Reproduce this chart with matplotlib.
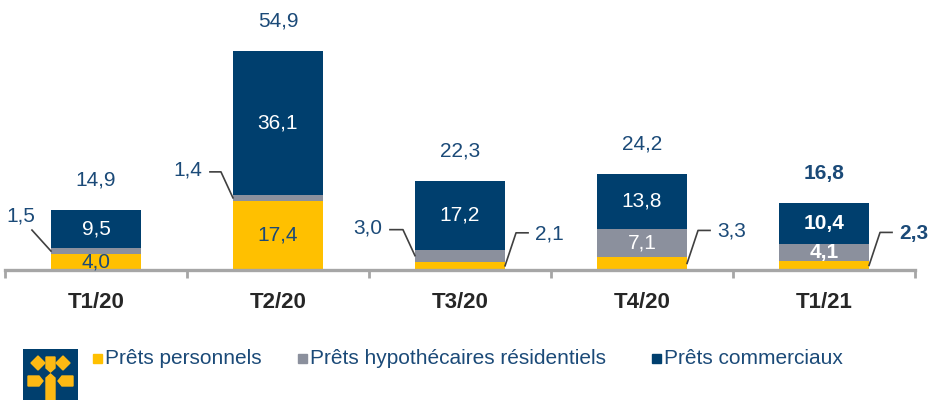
import matplotlib
matplotlib.use("Agg")
import matplotlib.pyplot as plt
from matplotlib.patches import Rectangle, Polygon

plt.rcParams['font.family'] = ['Liberation Sans', 'DejaVu Sans']

# Données (G$)
categories = ['T1/20', 'T2/20', 'T3/20', 'T4/20', 'T1/21']
personnels = [4.0, 17.4, 2.1, 3.3, 2.3]
hypothecaires = [1.5, 1.4, 3.0, 7.1, 4.1]
commerciaux = [9.5, 36.1, 17.2, 13.8, 10.4]
totaux = [14.9, 54.9, 22.3, 24.2, 16.8]
series_names = ['Prêts personnels', 'Prêts hypothécaires résidentiels', 'Prêts commerciaux']

# Styles
c_jaune = '#FFC000'
c_gris = '#8B909D'
c_marine = '#003F6E'
c_texte = '#1B4A78'
c_ligne = '#404040'
hypo_dedans = [False, False, False, True, True]
pers_dedans = [True, True, False, False, False]
hypo_horiz = [0, 11, 13, 0, 0]
gras = [False, False, False, False, True]

W, H = 933, 400
fig = plt.figure(figsize=(W / 100, H / 100), dpi=100)
ax = fig.add_axes([5 / W, 130 / H, 910 / W, 263 / H])
ax.set_xlim(-0.5, 4.5)
ax.set_ylim(0, 66)
px_x = 5 / 910.0
px_y = 66 / 263.0

x = list(range(len(categories)))
w = 0.495
bas2 = [p + h for p, h in zip(personnels, hypothecaires)]
ax.bar(x, personnels, w, color=c_jaune, zorder=2)
ax.bar(x, hypothecaires, w, bottom=personnels, color=c_gris, zorder=2)
ax.bar(x, commerciaux, w, bottom=bas2, color=c_marine, zorder=2)

fs = 15
def fmt(v):
    return ('%.1f' % v).replace('.', ',')

for i in x:
    fw = 'bold' if gras[i] else 'normal'
    top = bas2[i] + commerciaux[i]
    # total
    ax.text(i, top + 30 * px_y, fmt(totaux[i]), ha='center', va='center',
            fontsize=fs, color=c_texte, fontweight=fw)
    # commerciaux
    ax.text(i, bas2[i] + commerciaux[i] / 2, fmt(commerciaux[i]), ha='center',
            va='center', fontsize=fs, color='white', fontweight=fw)
    # hypothecaires
    if hypo_dedans[i]:
        ax.text(i, personnels[i] + hypothecaires[i] / 2, fmt(hypothecaires[i]),
                ha='center', va='center', fontsize=fs, color='white', fontweight=fw)
    else:
        x0 = i - w / 2
        y0 = personnels[i] + hypothecaires[i] / 2
        if hypo_horiz[i] == 0:
            x1 = x0 - 19 * px_x
            y1 = y0 + 21 * px_y
            ax.plot([x0, x1], [y0, y1], color=c_ligne, lw=1.2, zorder=3,
                    clip_on=False)
            ax.text(x1 + 3 * px_x, y1 + 14 * px_y, fmt(hypothecaires[i]), ha='right',
                    va='center', fontsize=fs, color=c_texte, fontweight=fw)
        else:
            x1 = x0 - 12 * px_x
            y1 = y0 + 26 * px_y
            x2 = x1 - hypo_horiz[i] * px_x
            ax.plot([x0, x1, x2], [y0, y1, y1], color=c_ligne, lw=1.2, zorder=3,
                    clip_on=False)
            ax.text(x2 - 8 * px_x, y1 + 2 * px_y, fmt(hypothecaires[i]), ha='right',
                    va='center', fontsize=fs, color=c_texte, fontweight=fw)
    # personnels
    if pers_dedans[i]:
        ax.text(i, personnels[i] / 2, fmt(personnels[i]), ha='center', va='center',
                fontsize=fs, color=c_texte, fontweight=fw)
    else:
        x0 = i + w / 2
        y0 = personnels[i] / 2
        x1 = x0 + 11 * px_x
        y1 = y0 + 33 * px_y
        x2 = x1 + 12 * px_x
        ax.plot([x0, x1, x2], [y0, y1, y1], color=c_ligne, lw=1.2, zorder=3,
                clip_on=False)
        ax.text(x2 + 7 * px_x, y1 - 1 * px_y, fmt(personnels[i]), ha='left',
                va='center', fontsize=fs, color=c_texte, fontweight=fw)

# Axes
for s in ['top', 'right', 'left']:
    ax.spines[s].set_visible(False)
ax.spines['bottom'].set_color('#A6A6A6')
ax.spines['bottom'].set_linewidth(2.4)
ax.set_yticks([])
ax.set_xticks(x)
ax.set_xticklabels(categories, fontsize=16, fontweight='bold', color='#262626')
ax.tick_params(axis='x', which='major', length=0, pad=16)
ax.set_xticks([i - 0.5 for i in range(len(categories) + 1)], minor=True)
ax.tick_params(axis='x', which='minor', length=6, width=2, color='#A6A6A6')

# Légende
couleurs = [c_jaune, c_gris, c_marine]
leg_x = [93, 298, 652]
for nom, c, lx in zip(series_names, couleurs, leg_x):
    fig.patches.append(Rectangle((lx / W, (H - 363) / H), 9 / W, 9 / H,
                                 transform=fig.transFigure, color=c))
    fig.text((lx + 12) / W, (H - 359) / H, nom, ha='left', va='center',
             fontsize=15, color=c_texte)

# Logo
lax = fig.add_axes([23 / W, 0, 55 / W, 51 / H])
lax.set_xlim(0, 55)
lax.set_ylim(51, 0)
lax.set_facecolor(c_marine)
lax.set_xticks([])
lax.set_yticks([])
for s in lax.spines.values():
    s.set_visible(False)
formes = [
    [(15, 7), (22, 14), (15, 21), (8, 14)],
    [(40, 7), (47, 14), (40, 21), (33, 14)],
    [(23, 8), (32, 8), (32, 19), (27.5, 23), (23, 19)],
    [(5, 27), (16, 27), (20, 32), (16, 37), (5, 37)],
    [(39, 27), (50, 27), (50, 37), (39, 37), (35, 32)],
    [(23, 29), (27.5, 25), (32, 29), (32, 51), (23, 51)],
]
for f in formes:
    lax.add_patch(Polygon(f, closed=True, color='#FDB913'))

fig.savefig('out.png', dpi=100)
